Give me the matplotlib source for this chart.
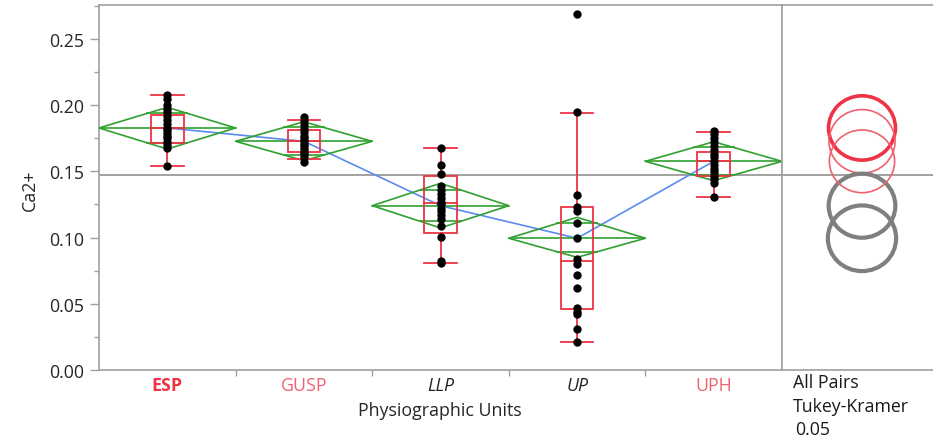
import numpy as np
import matplotlib
matplotlib.use("Agg")
import matplotlib.pyplot as plt
from matplotlib.patches import Polygon, Ellipse

plt.rcParams['font.family'] = ['Open Sans', 'DejaVu Sans']

# ---------------- data ----------------
categories = ["ESP", "GUSP", "LLP", "UP", "UPH"]

esp_vals = [0.2077, 0.2045, 0.2005, 0.1975, 0.1945, 0.1915, 0.1885, 0.1855, 0.1830,
            0.1810, 0.1790, 0.1770, 0.1750, 0.1725, 0.1700, 0.1675, 0.1539]
gusp_vals = [0.1909, 0.1880, 0.1850, 0.1820, 0.1795, 0.1770, 0.1750, 0.1730, 0.1710,
             0.1690, 0.1670, 0.1650, 0.1630, 0.1610, 0.1573]
llp_vals = [0.1674, 0.1548, 0.1480, 0.1392, 0.1360, 0.1330, 0.1300, 0.1270, 0.1250,
            0.1225, 0.1200, 0.1170, 0.1140, 0.1090, 0.1002, 0.0820, 0.0806]
up_vals = [0.2691, 0.1951, 0.1324, 0.1229, 0.1201, 0.1110, 0.0995, 0.0838, 0.0800,
           0.0718, 0.0617, 0.0466, 0.0440, 0.0423, 0.0310, 0.0214]
uph_vals = [0.1807, 0.1780, 0.1750, 0.1720, 0.1690, 0.1665, 0.1635, 0.1605, 0.1575,
            0.1550, 0.1520, 0.1495, 0.1465, 0.1440, 0.1410, 0.1304]
group_values = [esp_vals, gusp_vals, llp_vals, up_vals, uph_vals]

# box plot summaries
whisker_lo = [0.1539, 0.1594, 0.0806, 0.0209, 0.1309]
q1 = [0.1715, 0.1644, 0.1035, 0.0461, 0.1468]
median = [0.1826, 0.1727, 0.1261, 0.0826, 0.1576]
q3 = [0.1928, 0.1813, 0.1468, 0.1229, 0.1644]
whisker_hi = [0.2077, 0.1890, 0.1674, 0.1941, 0.1800]

# means diamonds (mean and upper / lower 95% CI)
means = [0.1828, 0.1727, 0.1241, 0.0995, 0.1576]
ci_hi = [0.1984, 0.1875, 0.1410, 0.1153, 0.1724]
ci_lo = [0.1669, 0.1581, 0.1073, 0.0851, 0.1430]

grand_mean = 0.1473

# comparison circles (radius in data units)
circle_radius = [0.0243, 0.0240, 0.0242, 0.0248, 0.0237]

y_ticks = [0.00, 0.05, 0.10, 0.15, 0.20, 0.25]
y_tick_labels = ["0.00", "0.05", "0.10", "0.15", "0.20", "0.25"]

# ---------------- styling ----------------
RED = "#EE3344"
RED_LIGHT = "#F06070"
GREEN = "#30A030"
BLUE = "#5A8CF0"
GRAY_AX = "#A0A0A0"
GRAY_MEAN = "#9A9A9A"
GRAY_CIRC = "#7F7F7F"
FS = 12.8

label_colors = [RED, RED_LIGHT, "#222222", "#222222", RED_LIGHT]
label_weights = ["bold", "normal", "normal", "normal", "normal"]
label_styles = ["normal", "normal", "italic", "italic", "normal"]
circle_colors = [RED, RED_LIGHT, GRAY_CIRC, GRAY_CIRC, RED_LIGHT]
circle_lw = [2.6, 1.2, 3.0, 3.0, 1.2]

W, H = 933, 439
fig = plt.figure(figsize=(W / 100, H / 100), dpi=100)

ax_left, ax_right, ax_top, ax_bottom = 99, 782, 5.7, 371
ax = fig.add_axes([ax_left / W, (H - ax_bottom) / H,
                   (ax_right - ax_left) / W, (ax_bottom - ax_top) / H])
ylim = (0.0, 0.2759)
ax.set_xlim(-0.5, len(categories) - 0.5)
ax.set_ylim(*ylim)

# grand mean
ax.axhline(grand_mean, color=GRAY_MEAN, lw=1.3, zorder=1)

x = np.arange(len(categories))
# line connecting means
ax.plot(x, means, color=BLUE, lw=1.2, zorder=2)

box_hw = 0.12
s2 = 1 / np.sqrt(2)
for i in range(len(categories)):
    m, hi, lo = means[i], ci_hi[i], ci_lo[i]
    poly = Polygon([[i - 0.5, m], [i, hi], [i + 0.5, m], [i, lo]], closed=True,
                   fill=False, edgecolor=GREEN, lw=1.2, zorder=3)
    ax.add_patch(poly)
    ax.plot([i - 0.5, i + 0.5], [m, m], color=GREEN, lw=1.2, zorder=3)
    hw = 0.5 * (1 - s2)
    for yy in (m + (hi - m) * s2, m - (m - lo) * s2):
        ax.plot([i - hw, i + hw], [yy, yy], color=GREEN, lw=1.2, zorder=3)

    # box
    ax.add_patch(plt.Rectangle((i - box_hw, q1[i]), 2 * box_hw, q3[i] - q1[i],
                               fill=False, edgecolor=RED, lw=1.3, zorder=4))
    ax.plot([i - box_hw, i + box_hw], [median[i], median[i]], color=RED, lw=1.3, zorder=4)
    ax.plot([i, i], [q3[i], whisker_hi[i]], color=RED, lw=1.3, zorder=4)
    ax.plot([i, i], [q1[i], whisker_lo[i]], color=RED, lw=1.3, zorder=4)
    for yy in (whisker_lo[i], whisker_hi[i]):
        ax.plot([i - box_hw, i + box_hw], [yy, yy], color=RED, lw=1.3, zorder=4)

    vals = group_values[i]
    ax.scatter(np.full(len(vals), i), vals, s=36, color="black", zorder=5,
               linewidths=0)

# axes styling
for sp in ax.spines.values():
    sp.set_color(GRAY_AX)
    sp.set_linewidth(1.2)
ax.set_yticks(y_ticks)
ax.set_yticklabels(y_tick_labels)
ax.set_yticks(np.arange(0.025, 0.28, 0.05), minor=True)
ax.tick_params(axis="y", which="major", length=6.5, width=1.0, color=GRAY_AX,
               labelsize=FS, labelcolor="#262626", pad=4)
ax.tick_params(axis="y", which="minor", length=3.5, width=1.0, color=GRAY_AX)

ax.set_xticks(np.arange(0.5, len(categories) - 0.5, 1.0))
ax.set_xticklabels([])
ax.tick_params(axis="x", which="major", length=4.5, width=1.0, color=GRAY_AX)
for i, c in enumerate(categories):
    ax.text(i, -0.0045, c, transform=ax.transData, ha="center", va="top",
            fontsize=FS, color=label_colors[i], fontweight=label_weights[i],
            fontstyle=label_styles[i])

fig.text(30 / W, 1 - 190 / H, "Ca2+", rotation=90, ha="center", va="center",
         fontsize=FS, color="#262626")
fig.text(440 / W, 1 - 411 / H, "Physiographic Units",
         ha="center", va="center", fontsize=FS, color="#262626")

# comparison circles panel
cx_left = ax_right
cx = fig.add_axes([cx_left / W, (H - ax_bottom) / H, (W + 5 - cx_left) / W,
                   (ax_bottom - ax_top) / H])
cx.set_xlim(0, W + 5 - cx_left)
cx.set_ylim(*ylim)
cx.axhline(grand_mean, color=GRAY_MEAN, lw=1.3, zorder=1)
center_x = 862 - cx_left
py_per_unit = (ax_bottom - ax_top) / (ylim[1] - ylim[0])
for i in range(len(categories)):
    r = circle_radius[i]
    rpx = r * py_per_unit * 1.04
    e = Ellipse((center_x, means[i]), width=2 * rpx, height=2 * r,
                fill=False, edgecolor=circle_colors[i], lw=circle_lw[i], zorder=3)
    cx.add_patch(e)
cx.set_xticks([])
cx.set_yticks([])
for name, sp in cx.spines.items():
    sp.set_color(GRAY_AX)
    sp.set_linewidth(1.2)
cx.spines["right"].set_visible(False)

fig.text(793 / W, 1 - 383 / H, "All Pairs", ha="left", va="center",
         fontsize=FS, color="#1a1a1a")
fig.text(793 / W, 1 - 407 / H, "Tukey-Kramer", ha="left", va="center",
         fontsize=FS, color="#1a1a1a")
fig.text(795 / W, 1 - 430 / H, "0.05", ha="left", va="center",
         fontsize=FS, color="#1a1a1a")

fig.savefig("out.png", dpi=100)
